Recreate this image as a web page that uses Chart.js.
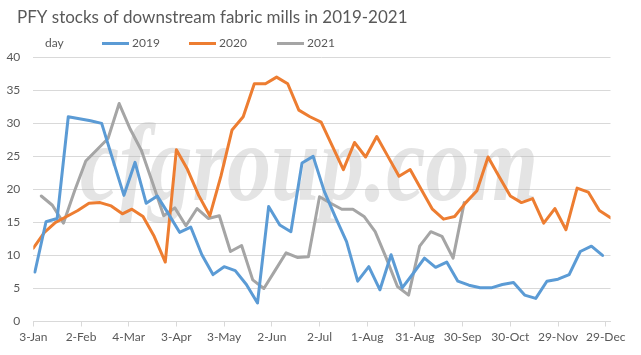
<!DOCTYPE html>
<html><head><meta charset="utf-8">
<script src="https://cdn.jsdelivr.net/npm/chart.js@4/dist/chart.umd.min.js"></script>
<style>html,body{margin:0;padding:0;background:#fff;} #wrap{width:641px;height:355px;position:relative;}</style>
</head><body><div id="wrap"><canvas id="c" width="641" height="355"></canvas></div>
<script>
const titleText = 'PFY stocks of downstream fabric mills in 2019-2021';
const categoryName = 'day';
const watermarkText = 'cfgroup.com';
const tickLabels = ['3-Jan','2-Feb','4-Mar','3-Apr','3-May','2-Jun','2-Jul','1-Aug','31-Aug','30-Sep','30-Oct','29-Nov','29-Dec'];
const seriesNames = ['2019','2020','2021'];
const seriesColors = ['#5B9BD5','#ED7D31','#A5A5A5'];

// day offsets from 3-Jan
const days2019 = [1,8,15,22,29,36,43,50,57,64,71,78,85,92,99,106,113,120,127,134,141,148,155,162,169,176,183,190,197,204,211,218,225,232,239,246,253,260,267,274,281,288,295,302,309,316,323,330,337,344,351,358];
const values2019 = [7.5,15.1,15.6,31.0,30.7,30.4,30.0,24.5,19.1,24.1,17.9,19.0,16.3,13.5,14.3,10.1,7.1,8.3,7.7,5.6,2.8,17.4,14.6,13.6,24.0,25.0,19.7,15.8,12.1,6.1,8.3,4.8,10.1,5.1,7.3,9.6,8.2,9.0,6.1,5.5,5.1,5.1,5.6,5.9,4.0,3.5,6.1,6.4,7.1,10.6,11.4,10.0];

const days2020 = [0,7,14,21,28,35,42,49,56,62,69,76,83,90,97,104,111,118,125,132,139,146,153,160,167,174,181,188,195,202,209,216,223,230,237,244,251,258,265,272,279,286,293,300,307,314,321,328,335,342,349,356,363];
const values2020 = [11.1,13.5,15.0,15.9,16.8,17.9,18.0,17.5,16.3,17.0,15.9,12.9,9.0,26.0,23.0,19.1,16.0,22.0,29.0,31.0,36.0,36.0,37.0,36.0,32.0,31.0,30.2,26.6,23.0,27.1,24.9,28.0,25.0,22.0,23.0,20.0,17.0,15.5,15.9,18.0,19.8,24.9,21.9,19.0,18.0,18.6,14.9,17.1,13.9,20.2,19.6,16.8,15.7];

const days2021 = [5,12,19,26,33,40,47,54,61,68,75,82,89,96,103,110,117,124,131,138,145,152,159,166,173,180,187,194,201,208,215,222,229,236,243,250,257,264,271];
const values2021 = [19.0,17.6,14.9,19.8,24.3,26.0,27.7,33.0,29.1,25.9,21.0,16.0,17.2,14.5,17.1,15.6,16.0,10.6,11.5,6.3,5.0,7.7,10.4,9.7,9.8,18.9,17.9,17.0,17.0,15.9,13.6,9.6,5.3,4.0,11.4,13.6,12.9,9.6,18.0];

const allDays = [days2019, days2020, days2021];
const allValues = [values2019, values2020, values2021];

const FONT = 'Lato';
const TEXT = '#595959';
const GRID = '#D9D9D9';

const datasets = seriesNames.map((name, s) => ({
  label: name,
  data: allDays[s].map((d, i) => ({x: d, y: allValues[s][i]})),
  borderColor: seriesColors[s],
  backgroundColor: seriesColors[s],
  borderWidth: 3,
  pointRadius: 0,
  pointHoverRadius: 0,
  tension: 0,
  fill: false,
  borderJoinStyle: 'round',
  borderCapStyle: 'round'
}));

const watermark = {
  id: 'watermark',
  beforeDatasetsDraw(chart) {
    const ctx = chart.ctx;
    ctx.save();
    ctx.font = 'italic bold 110px "Liberation Serif"';
    ctx.fillStyle = 'rgba(180,180,180,0.36)';
    ctx.textBaseline = 'alphabetic';
    ctx.textAlign = 'left';
    const w = ctx.measureText(watermarkText).width;
    ctx.translate(80, 200);
    ctx.scale(458 / w, 1);
    ctx.fillText(watermarkText, 0, 0);
    ctx.restore();
  }
};

const titleAndLegend = {
  id: 'titleAndLegend',
  afterDraw(chart) {
    const ctx = chart.ctx;
    ctx.save();
    // title
    ctx.font = '17px ' + FONT;
    ctx.fillStyle = TEXT;
    ctx.textBaseline = 'middle';
    ctx.textAlign = 'left';
    ctx.fillText(titleText, 17, 17.5);
    // legend
    const y = 43.5;
    ctx.font = '12px ' + FONT;
    ctx.fillText(categoryName, 45, y);
    const starts = [102, 189, 277];
    chart.data.datasets.forEach((ds, i) => {
      const x0 = starts[i];
      ctx.strokeStyle = ds.borderColor;
      ctx.lineWidth = 3;
      ctx.lineCap = 'butt';
      ctx.beginPath();
      ctx.moveTo(x0, y);
      ctx.lineTo(x0 + 27, y);
      ctx.stroke();
      ctx.fillStyle = TEXT;
      ctx.fillText(ds.label, x0 + 30, y);
    });
    ctx.restore();
  }
};

new Chart(document.getElementById('c'), {
  type: 'line',
  data: { datasets },
  options: {
    responsive: false,
    animation: false,
    events: [],
    layout: { padding: { left: 0, right: 30.5, top: 57.3, bottom: 0 } },
    plugins: {
      legend: { display: false },
      tooltip: { enabled: false },
      title: { display: false }
    },
    scales: {
      x: {
        type: 'linear',
        min: 0,
        max: 363,
        afterFit(scale) { scale.height = 33.5; },
        ticks: {
          stepSize: 30,
          includeBounds: false,
          autoSkip: false,
          maxRotation: 0,
          minRotation: 0,
          padding: 3,
          color: TEXT,
          font: { family: FONT, size: 12 },
          callback: (v) => (v % 30 === 0 ? tickLabels[v / 30] : '')
        },
        grid: { display: true, drawOnChartArea: false, drawTicks: true, tickLength: 5, color: GRID },
        border: { display: true, color: GRID, width: 1 }
      },
      y: {
        min: 0,
        max: 40,
        afterFit(scale) { scale.width = 33.3; },
        ticks: {
          stepSize: 5,
          padding: 13,
          color: TEXT,
          font: { family: FONT, size: 12 }
        },
        grid: { color: GRID, drawTicks: false },
        border: { display: false }
      }
    }
  },
  plugins: [watermark, titleAndLegend]
});
</script>
</body></html>
